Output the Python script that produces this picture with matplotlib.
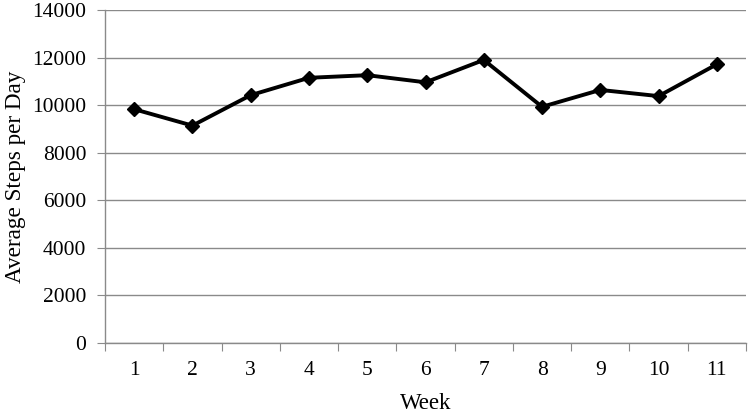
import matplotlib.pyplot as plt

# valores (média de passos por dia, por semana)
semanas = ["1", "2", "3", "4", "5", "6", "7", "8", "9", "10", "11"]
passos = [9830, 9140, 10420, 11150, 11260, 10960, 11900, 9930, 10640, 10380, 11720]

plt.rcParams["font.family"] = ["Liberation Serif", "DejaVu Serif"]

fig = plt.figure(figsize=(7.5, 4.12), dpi=100)
ax = fig.add_axes([0.14, 0.1675, 0.8547, 0.8082])

x = list(range(1, len(semanas) + 1))
ax.plot(x, passos, color="black", linewidth=2.8, marker="D", markersize=7.5,
        zorder=3)

ax.set_xlim(0.5, len(semanas) + 0.5)
ax.set_ylim(0, 14000)
ax.set_yticks(range(0, 14001, 2000))
ax.yaxis.grid(True, color="#8a8a8a", linewidth=1)
ax.set_axisbelow(True)

# rótulos centrados nas categorias, marcas entre elas (estilo Excel)
ax.set_xticks([i + 0.5 for i in range(0, len(semanas) + 1)])
ax.set_xticklabels([])
ax.set_xticks(x, minor=True)
ax.set_xticklabels(semanas, minor=True)
ax.tick_params(axis="x", which="major", length=5.5, color="#8a8a8a",
               direction="out")
ax.tick_params(axis="x", which="minor", length=0, pad=13, labelsize=15.5)
ax.tick_params(axis="y", length=6, color="#8a8a8a", labelsize=15.5, pad=7.5)

for lado in ["top", "right"]:
    ax.spines[lado].set_visible(False)
for lado in ["left", "bottom"]:
    ax.spines[lado].set_color("#8a8a8a")
    ax.spines[lado].set_linewidth(1)

ax.set_xlabel("Week", fontsize=16.5, labelpad=9)
ax.set_ylabel("Average Steps per Day", fontsize=16.7)
ax.yaxis.set_label_coords(-0.123, 0.5)

fig.savefig("out.png", dpi=100)
